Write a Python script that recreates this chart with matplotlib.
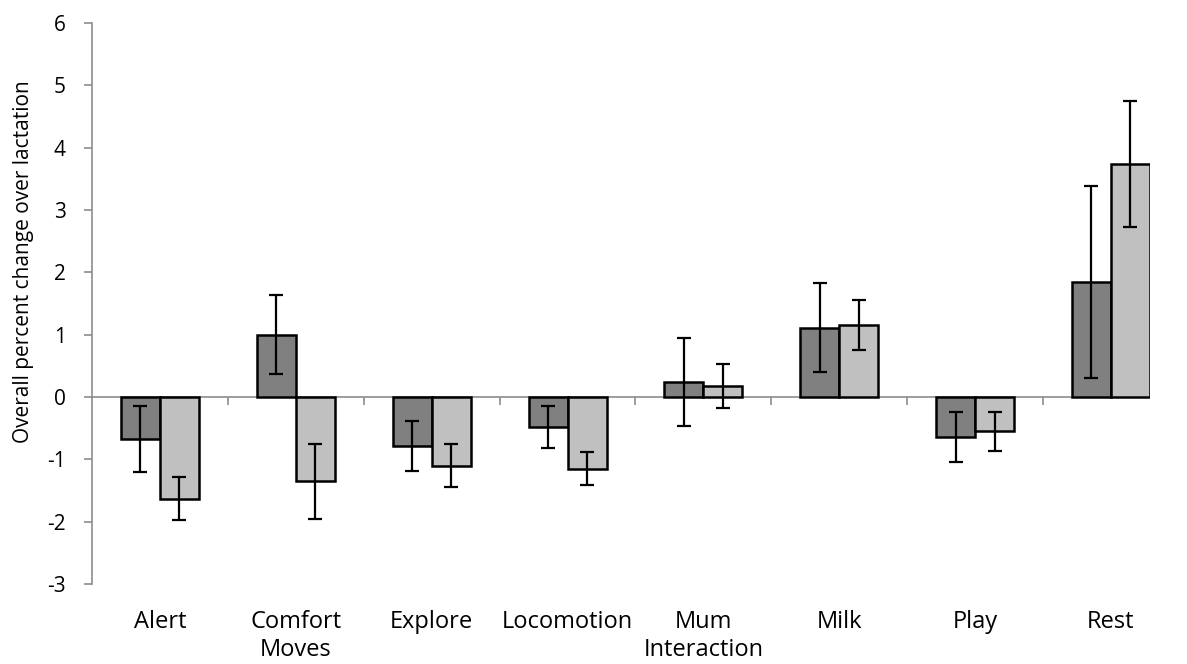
import numpy as np
import matplotlib.pyplot as plt

plt.rcParams['font.family'] = ['Open Sans', 'DejaVu Sans']
plt.rcParams['axes.unicode_minus'] = False

categories = ['Alert', 'Comfort\nMoves', 'Explore', 'Locomotion', 'Mum\nInteraction', 'Milk', 'Play', 'Rest']
dark_vals = [-0.68, 1.0, -0.79, -0.48, 0.24, 1.11, -0.64, 1.85]
dark_err = [0.53, 0.63, 0.40, 0.34, 0.71, 0.71, 0.40, 1.54]
light_vals = [-1.63, -1.35, -1.10, -1.15, 0.18, 1.15, -0.55, 3.73]
light_err = [0.35, 0.60, 0.35, 0.27, 0.35, 0.40, 0.31, 1.01]

x = np.arange(len(categories))
w = 0.287

fig = plt.figure(figsize=(11.87, 6.64), dpi=100)
ax = fig.add_axes([0.0775, 0.1205, 0.8913, 0.845])

err_kw = dict(ecolor='black', elinewidth=1.6, capsize=4.7, capthick=1.6)
ax.bar(x - w / 2, dark_vals, w, color='#808080', edgecolor='black', linewidth=1.8,
       yerr=dark_err, error_kw=err_kw, zorder=2)
ax.bar(x + w / 2, light_vals, w, color='#c0c0c0', edgecolor='black', linewidth=1.8,
       yerr=light_err, error_kw=err_kw, zorder=2)

# the plot area ends at the edge of the last bar, as in the original
ax.set_xlim(-0.5, len(categories) - 1 + w)
ax.set_ylim(-3, 6)
ax.set_yticks(range(-3, 7))
ax.axhline(0, color='#8c8c8c', linewidth=1.2, zorder=1)

# category labels at the bottom, no tick marks
ax.set_xticks(x)
ax.set_xticklabels(categories, fontsize=17, linespacing=1.2)
ax.tick_params(axis='x', length=0, pad=19)

# tick marks on the zero line between categories
zero_ax = ax.secondary_xaxis(3 / 9)
zero_ax.set_xticks(np.arange(0.5, len(categories) - 1, 1))
zero_ax.set_xticklabels([])
zero_ax.tick_params(axis='x', direction='out', length=6, color='#8c8c8c', width=1.2)
zero_ax.spines['bottom'].set_visible(False)

for s in ['top', 'right', 'bottom']:
    ax.spines[s].set_visible(False)
ax.spines['left'].set_color('#8c8c8c')
ax.spines['left'].set_linewidth(1.2)
ax.tick_params(axis='y', direction='out', length=6, color='#8c8c8c', width=1.2,
               labelsize=15, pad=13)

ax.set_ylabel('Overall percent change over lactation', fontsize=15)
ax.yaxis.set_label_coords(-0.055, 0.574)

fig.savefig('out.png', dpi=100)
